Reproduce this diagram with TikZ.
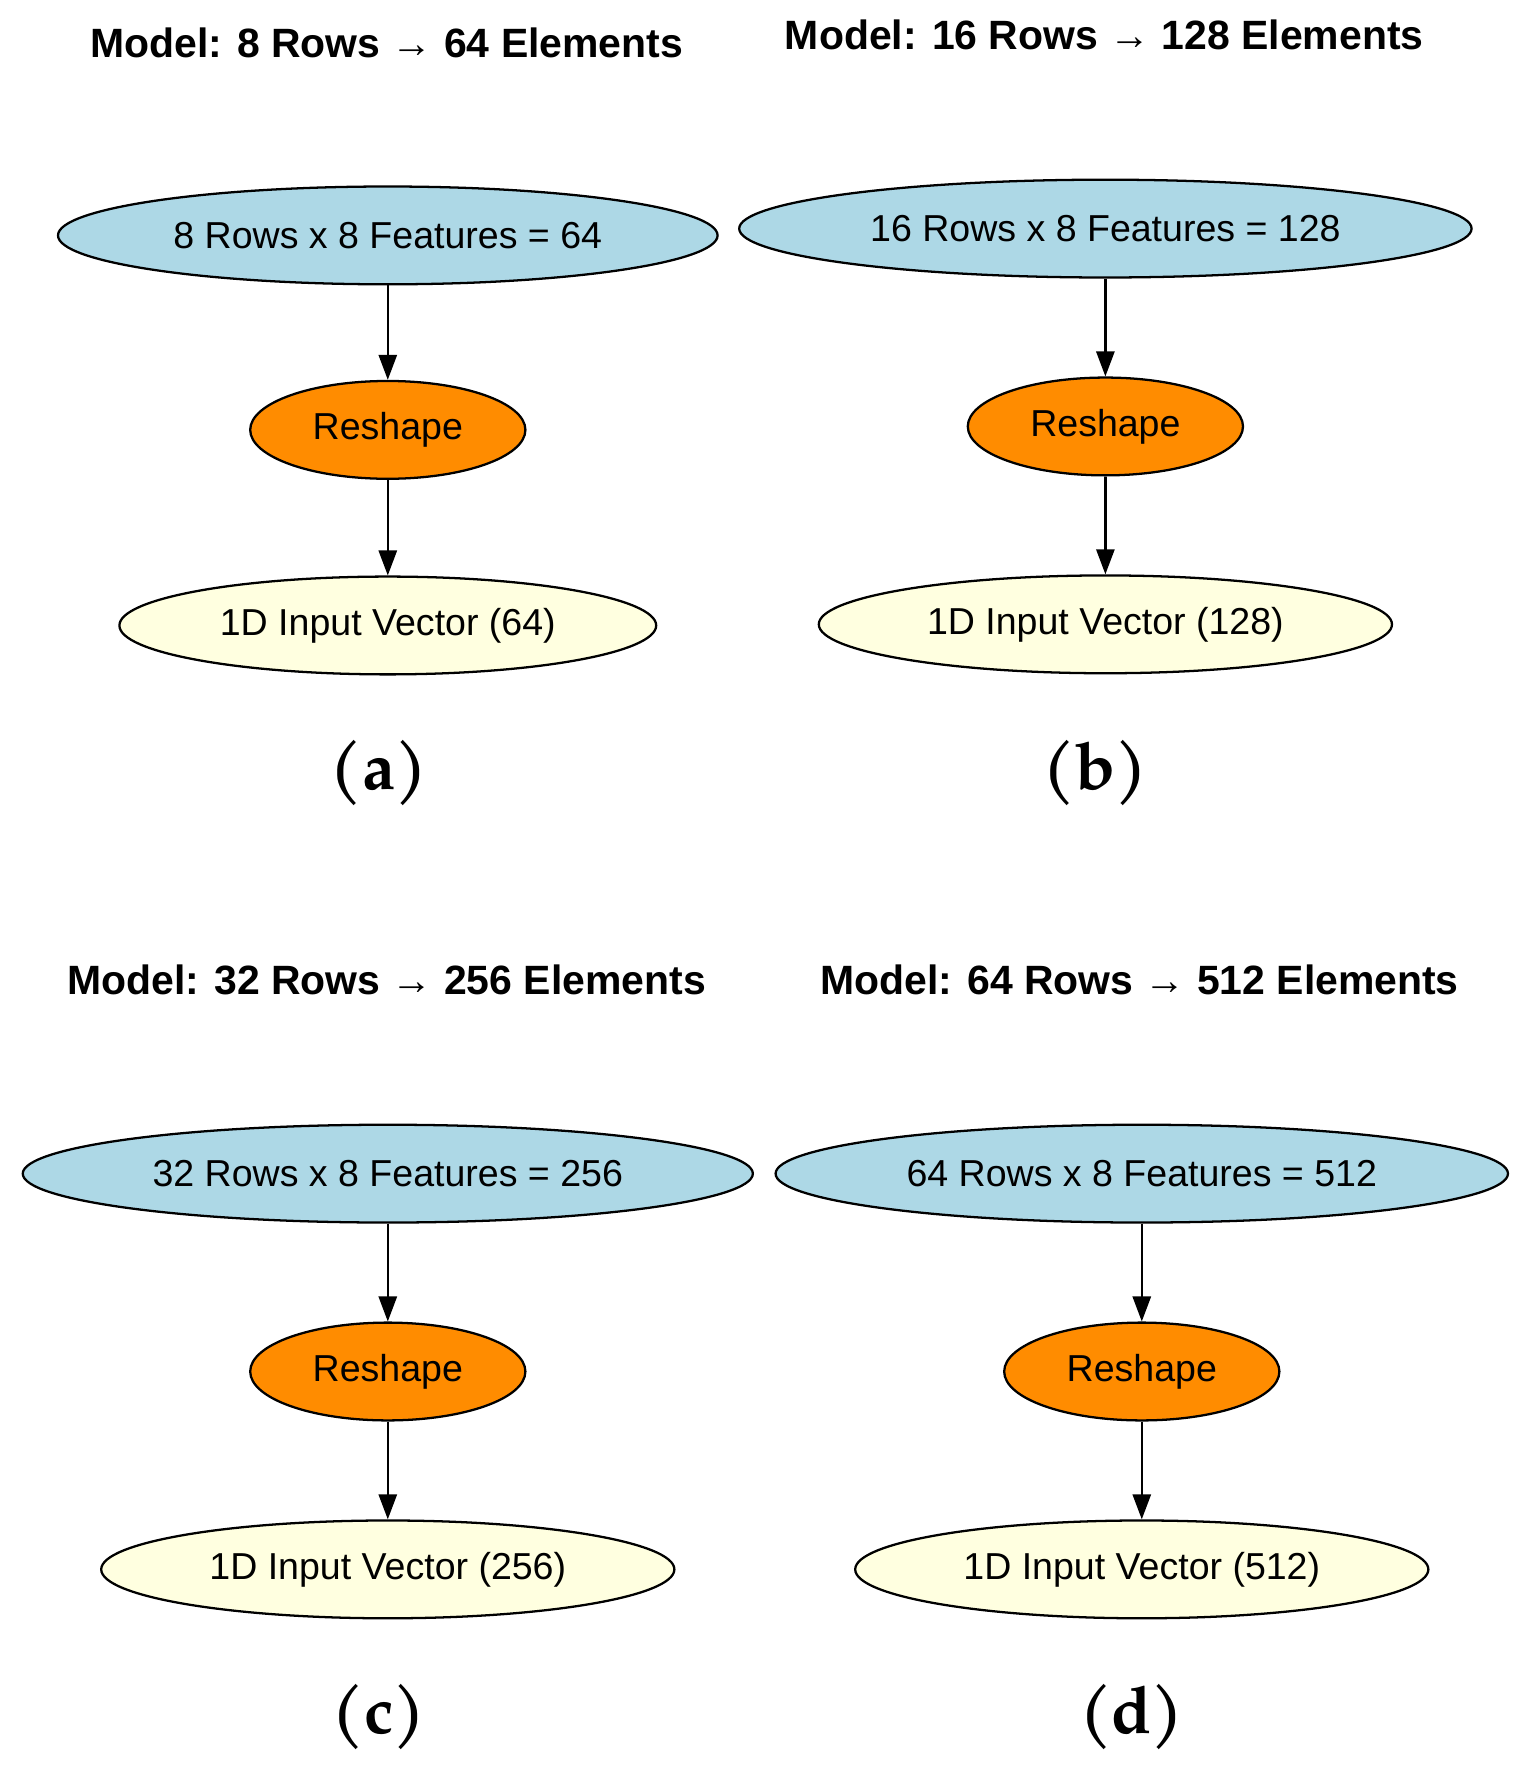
\documentclass[tikz,border=0pt]{standalone}
\usepackage{fontspec}
\setmainfont{Liberation Sans}
\newfontfamily\capfont{TeX Gyre Pagella}
\usetikzlibrary{shapes.geometric,arrows.meta}
\definecolor{lb}{HTML}{ADD8E6}
\definecolor{dor}{HTML}{FF8C00}
\definecolor{ly}{HTML}{FFFFE0}
\tikzset{
 el/.style={ellipse,draw=black,line width=2pt,inner sep=0pt,font=\fontsize{33}{33}\selectfont},
 topn/.style={el,fill=lb},
 resh/.style={el,fill=dor,minimum width=242pt,minimum height=86pt},
 botn/.style={el,fill=ly},
 ttl/.style={font=\bfseries\fontsize{36}{36}\selectfont},
 lbl/.style={font=\capfont\bfseries\fontsize{58}{58}\selectfont},
 arr/.style={-{Triangle[length=22pt,width=16pt]},line width=2pt}
}
\begin{document}
\begin{tikzpicture}[x=1pt,y=-1pt]
\useasboundingbox (0,0) rectangle (1350,1574);
% (a)
\node[ttl] (ta) at (340,38) {Model: 8 Rows → 64 Elements};
\node[topn,minimum width=580pt,minimum height=86pt] (a1) at (341,207) {8 Rows x 8 Features = 64};
\node[resh] (a2) at (341,378) {Reshape};
\node[botn,minimum width=472pt,minimum height=86pt] (a3) at (341,550) {1D Input Vector (64)};
\node[lbl] (la) at (333,680) {(a)};
\draw[arr] (a1) -- (a2); \draw[arr] (a2) -- (a3);
% (b)
\node[ttl] (tb) at (971,31) {Model: 16 Rows → 128 Elements};
\node[topn,minimum width=644pt,minimum height=86pt] (b1) at (972,201) {16 Rows x 8 Features = 128};
\node[resh] (b2) at (972,375) {Reshape};
\node[botn,minimum width=504pt,minimum height=86pt] (b3) at (972,549) {1D Input Vector (128)};
\node[lbl] (lb) at (963,680) {(b)};
\draw[arr] (b1) -- (b2); \draw[arr] (b2) -- (b3);
% (c)
\node[ttl] (tc) at (340,862) {Model: 32 Rows → 256 Elements};
\node[topn,minimum width=642pt,minimum height=86pt] (c1) at (341,1032) {32 Rows x 8 Features = 256};
\node[resh] (c2) at (341,1206) {Reshape};
\node[botn,minimum width=504pt,minimum height=86pt] (c3) at (341,1380) {1D Input Vector (256)};
\node[lbl] (lc) at (333,1510) {(c)};
\draw[arr] (c1) -- (c2); \draw[arr] (c2) -- (c3);
% (d)
\node[ttl] (td) at (1002,862) {Model: 64 Rows → 512 Elements};
\node[topn,minimum width=644pt,minimum height=86pt] (d1) at (1004,1032) {64 Rows x 8 Features = 512};
\node[resh] (d2) at (1004,1206) {Reshape};
\node[botn,minimum width=504pt,minimum height=86pt] (d3) at (1004,1380) {1D Input Vector (512)};
\node[lbl] (ld) at (995,1510) {(d)};
\draw[arr] (d1) -- (d2); \draw[arr] (d2) -- (d3);
\end{tikzpicture}
\end{document}
